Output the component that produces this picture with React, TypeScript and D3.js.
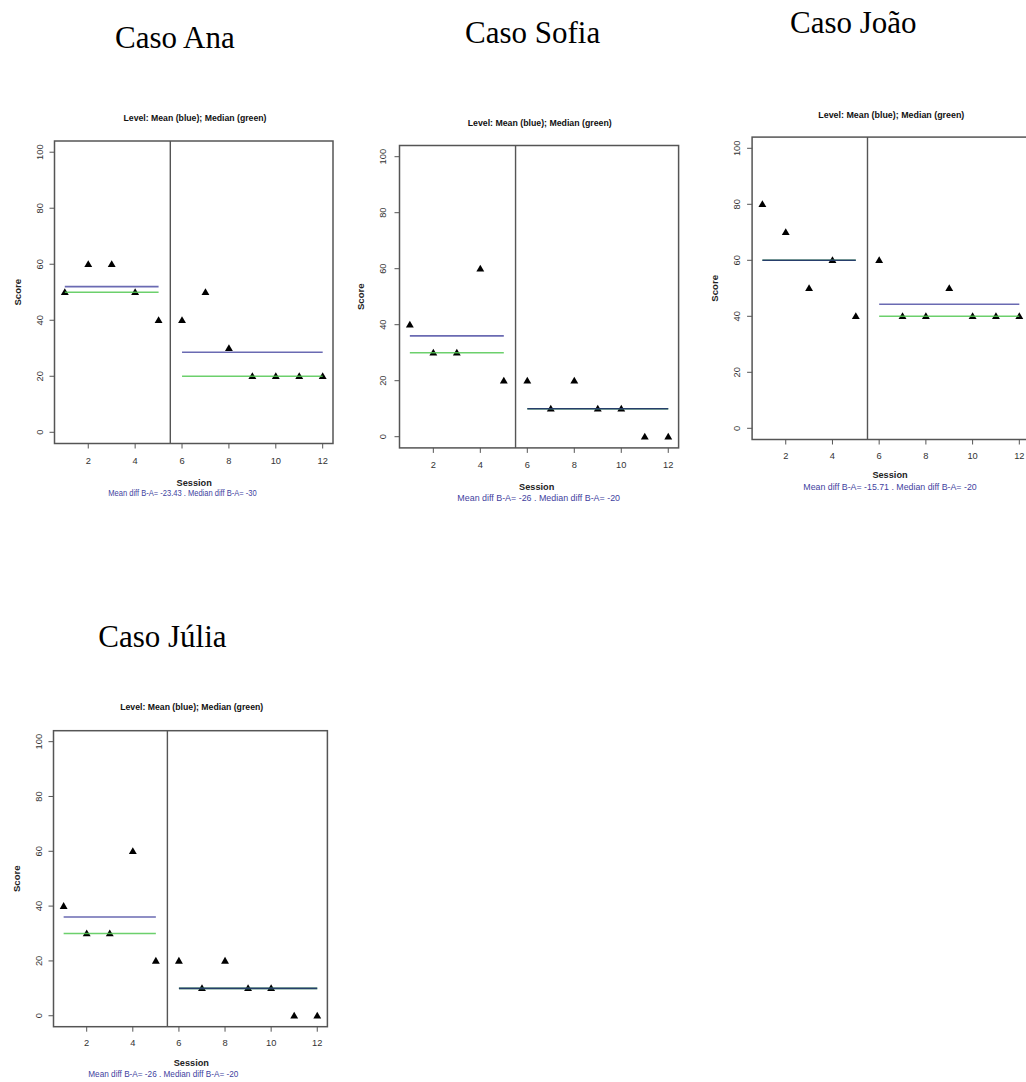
import React from "react";
import * as d3 from "d3";

// Sessions 1–5 are baseline (phase A), 6–12 are intervention (phase B)
const sessions = [1, 2, 3, 4, 5, 6, 7, 8, 9, 10, 11, 12];
const phaseA = [1, 2, 3, 4, 5];
const phaseB = [6, 7, 8, 9, 10, 11, 12];
const phaseChange = 5.5;

const caseNames = ["Caso Ana", "Caso Sofia", "Caso João", "Caso Júlia"];
const anaScores = [50, 60, 60, 50, 40, 40, 50, 30, 20, 20, 20, 20];
const sofiaScores = [40, 30, 30, 60, 20, 20, 10, 20, 10, 10, 0, 0];
const joaoScores = [80, 70, 50, 60, 40, 60, 40, 40, 50, 40, 40, 40];
const juliaScores = [40, 30, 30, 60, 20, 20, 10, 20, 10, 10, 0, 0];

const xTicks = [2, 4, 6, 8, 10, 12];
const yTicks = [0, 20, 40, 60, 80, 100];
const xDomain: [number, number] = [0.56, 12.44];
const yDomain: [number, number] = [-4, 104];

const panelTitle = "Level: Mean (blue); Median (green)";
const xLabel = "Session";
const yLabel = "Score";

// Placement of each small-multiple on the page
const layouts = [
  { head: [115, 48.3], box: [54.5, 141, 333, 443.5], title: [195, 118.3, 143], xTickY: 460.7, session: [194.2, 482.7], diff: [182.5, 493, 148.4], scoreX: 17.3, yTickX: 40 },
  { head: [465, 43.3], box: [399.5, 145.5, 678.6, 447.9], title: [539.7, 123.3, 144], xTickY: 465, session: [536.7, 486.7], diff: [538.7, 497.7, 162.7], scoreX: 360.7, yTickX: 383.3 },
  { head: [790, 32.7], box: [752.1, 137.1, 1029.6, 439.5], title: [891.3, 115, 146], xTickY: 456, session: [890, 475], diff: [890, 486.7, 173.4], scoreX: 714, yTickX: 736.7 },
  { head: [98.3, 647], box: [53.5, 730.7, 327.4, 1026.7], title: [191.7, 706.7, 143], xTickY: 1042.7, session: [191.3, 1063.3], diff: [163.3, 1074, 150], scoreX: 16.7, yTickX: 39.3 },
];

const allScores = [anaScores, sofiaScores, joaoScores, juliaScores];

const SANS = "'Liberation Sans', Arial, Helvetica, sans-serif";
const SERIF = "'Liberation Serif', 'Times New Roman', Times, serif";
const FRAME = "#555";
const MEAN_COLOR = "#5a5aaa";
const MEAN_ON_MEDIAN = "#1f2d6b";
const MEDIAN_COLOR = "#52c852";
const DIFF_COLOR = "#3f3fa0";

const fmt = (v: number) => String(Number(v.toFixed(2)));

function Panel({ idx }: { idx: number }) {
  const L = layouts[idx];
  const scores = allScores[idx];
  const [l, t, r, b] = L.box;
  const x = d3.scaleLinear().domain(xDomain).range([l, r]);
  const y = d3.scaleLinear().domain(yDomain).range([b, t]);

  const valsA = phaseA.map((s) => scores[sessions.indexOf(s)]);
  const valsB = phaseB.map((s) => scores[sessions.indexOf(s)]);
  const meanA = d3.mean(valsA)!;
  const meanB = d3.mean(valsB)!;
  const medA = d3.median(valsA)!;
  const medB = d3.median(valsB)!;

  const tri = d3.symbol().type(d3.symbolTriangle).size(27)()!;

  const levels = [
    { ph: phaseA, mean: meanA, med: medA },
    { ph: phaseB, mean: meanB, med: medB },
  ];

  const diffText = `Mean diff B-A= ${fmt(meanB - meanA)} . Median diff B-A= ${fmt(medB - medA)}`;

  return (
    <g>
      <text x={L.head[0]} y={L.head[1]} fontFamily={SERIF} fontSize={31} fill="#000">
        {caseNames[idx]}
      </text>
      <text x={L.title[0]} y={L.title[1]} textAnchor="middle" dominantBaseline="central"
        fontFamily={SANS} fontSize={8.8} fontWeight="bold" fill="#111"
        textLength={L.title[2]} lengthAdjust="spacingAndGlyphs">
        {panelTitle}
      </text>

      {/* points */}
      {sessions.map((s, i) => (
        <path key={s} d={tri} transform={`translate(${x(s)},${y(scores[i]) + 0.5})`} fill="#000" />
      ))}

      {/* level lines */}
      {levels.map((lv, k) => {
        const x1 = x(d3.min(lv.ph)!);
        const x2 = x(d3.max(lv.ph)!);
        const same = lv.mean === lv.med;
        return (
          <g key={k}>
            <line x1={x1} x2={x2} y1={y(lv.med)} y2={y(lv.med)} stroke={MEDIAN_COLOR} strokeWidth={1.6} strokeOpacity={0.85} />
            <line x1={x1} x2={x2} y1={y(lv.mean)} y2={y(lv.mean)} stroke={same ? MEAN_ON_MEDIAN : MEAN_COLOR} strokeWidth={1.6} strokeOpacity={0.9} />
          </g>
        );
      })}

      {/* phase change */}
      <line x1={x(phaseChange)} x2={x(phaseChange)} y1={t} y2={b} stroke={FRAME} strokeWidth={1.4} />

      {/* frame */}
      <rect x={l} y={t} width={r - l} height={b - t} fill="none" stroke={FRAME} strokeWidth={1.5} />

      {/* x axis */}
      {xTicks.map((v) => (
        <g key={v}>
          <line x1={x(v)} x2={x(v)} y1={b} y2={b + 5} stroke={FRAME} strokeWidth={1} />
          <text x={x(v)} y={L.xTickY} textAnchor="middle" dominantBaseline="central"
            fontFamily={SANS} fontSize={9.3} fill="#333">{v}</text>
        </g>
      ))}
      {/* y axis */}
      {yTicks.map((v) => (
        <g key={v}>
          <line x1={l - 5} x2={l} y1={y(v)} y2={y(v)} stroke={FRAME} strokeWidth={1} />
          <text transform={`translate(${L.yTickX},${y(v)}) rotate(-90)`} textAnchor="middle" dominantBaseline="central"
            fontFamily={SANS} fontSize={9.3} fill="#333">{v}</text>
        </g>
      ))}

      <text transform={`translate(${L.scoreX},${(t + b) / 2}) rotate(-90)`} textAnchor="middle" dominantBaseline="central"
        fontFamily={SANS} fontSize={9.6} fontWeight="bold" fill="#222">{yLabel}</text>
      <text x={L.session[0]} y={L.session[1]} textAnchor="middle" dominantBaseline="central"
        fontFamily={SANS} fontSize={9.2} fontWeight="bold" fill="#222">{xLabel}</text>
      <text x={L.diff[0]} y={L.diff[1]} textAnchor="middle" dominantBaseline="central"
        fontFamily={SANS} fontSize={8.8} fill={DIFF_COLOR}
        textLength={L.diff[2]} lengthAdjust="spacingAndGlyphs">{diffText}</text>
    </g>
  );
}

export default function App() {
  return (
    <svg width={1026} height={1082} viewBox="0 0 1026 1082"
      style={{ position: "absolute", left: 0, top: 0, background: "#fff", display: "block" }}>
      <rect width={1026} height={1082} fill="#fff" />
      {layouts.map((_, i) => (
        <Panel key={i} idx={i} />
      ))}
    </svg>
  );
}
